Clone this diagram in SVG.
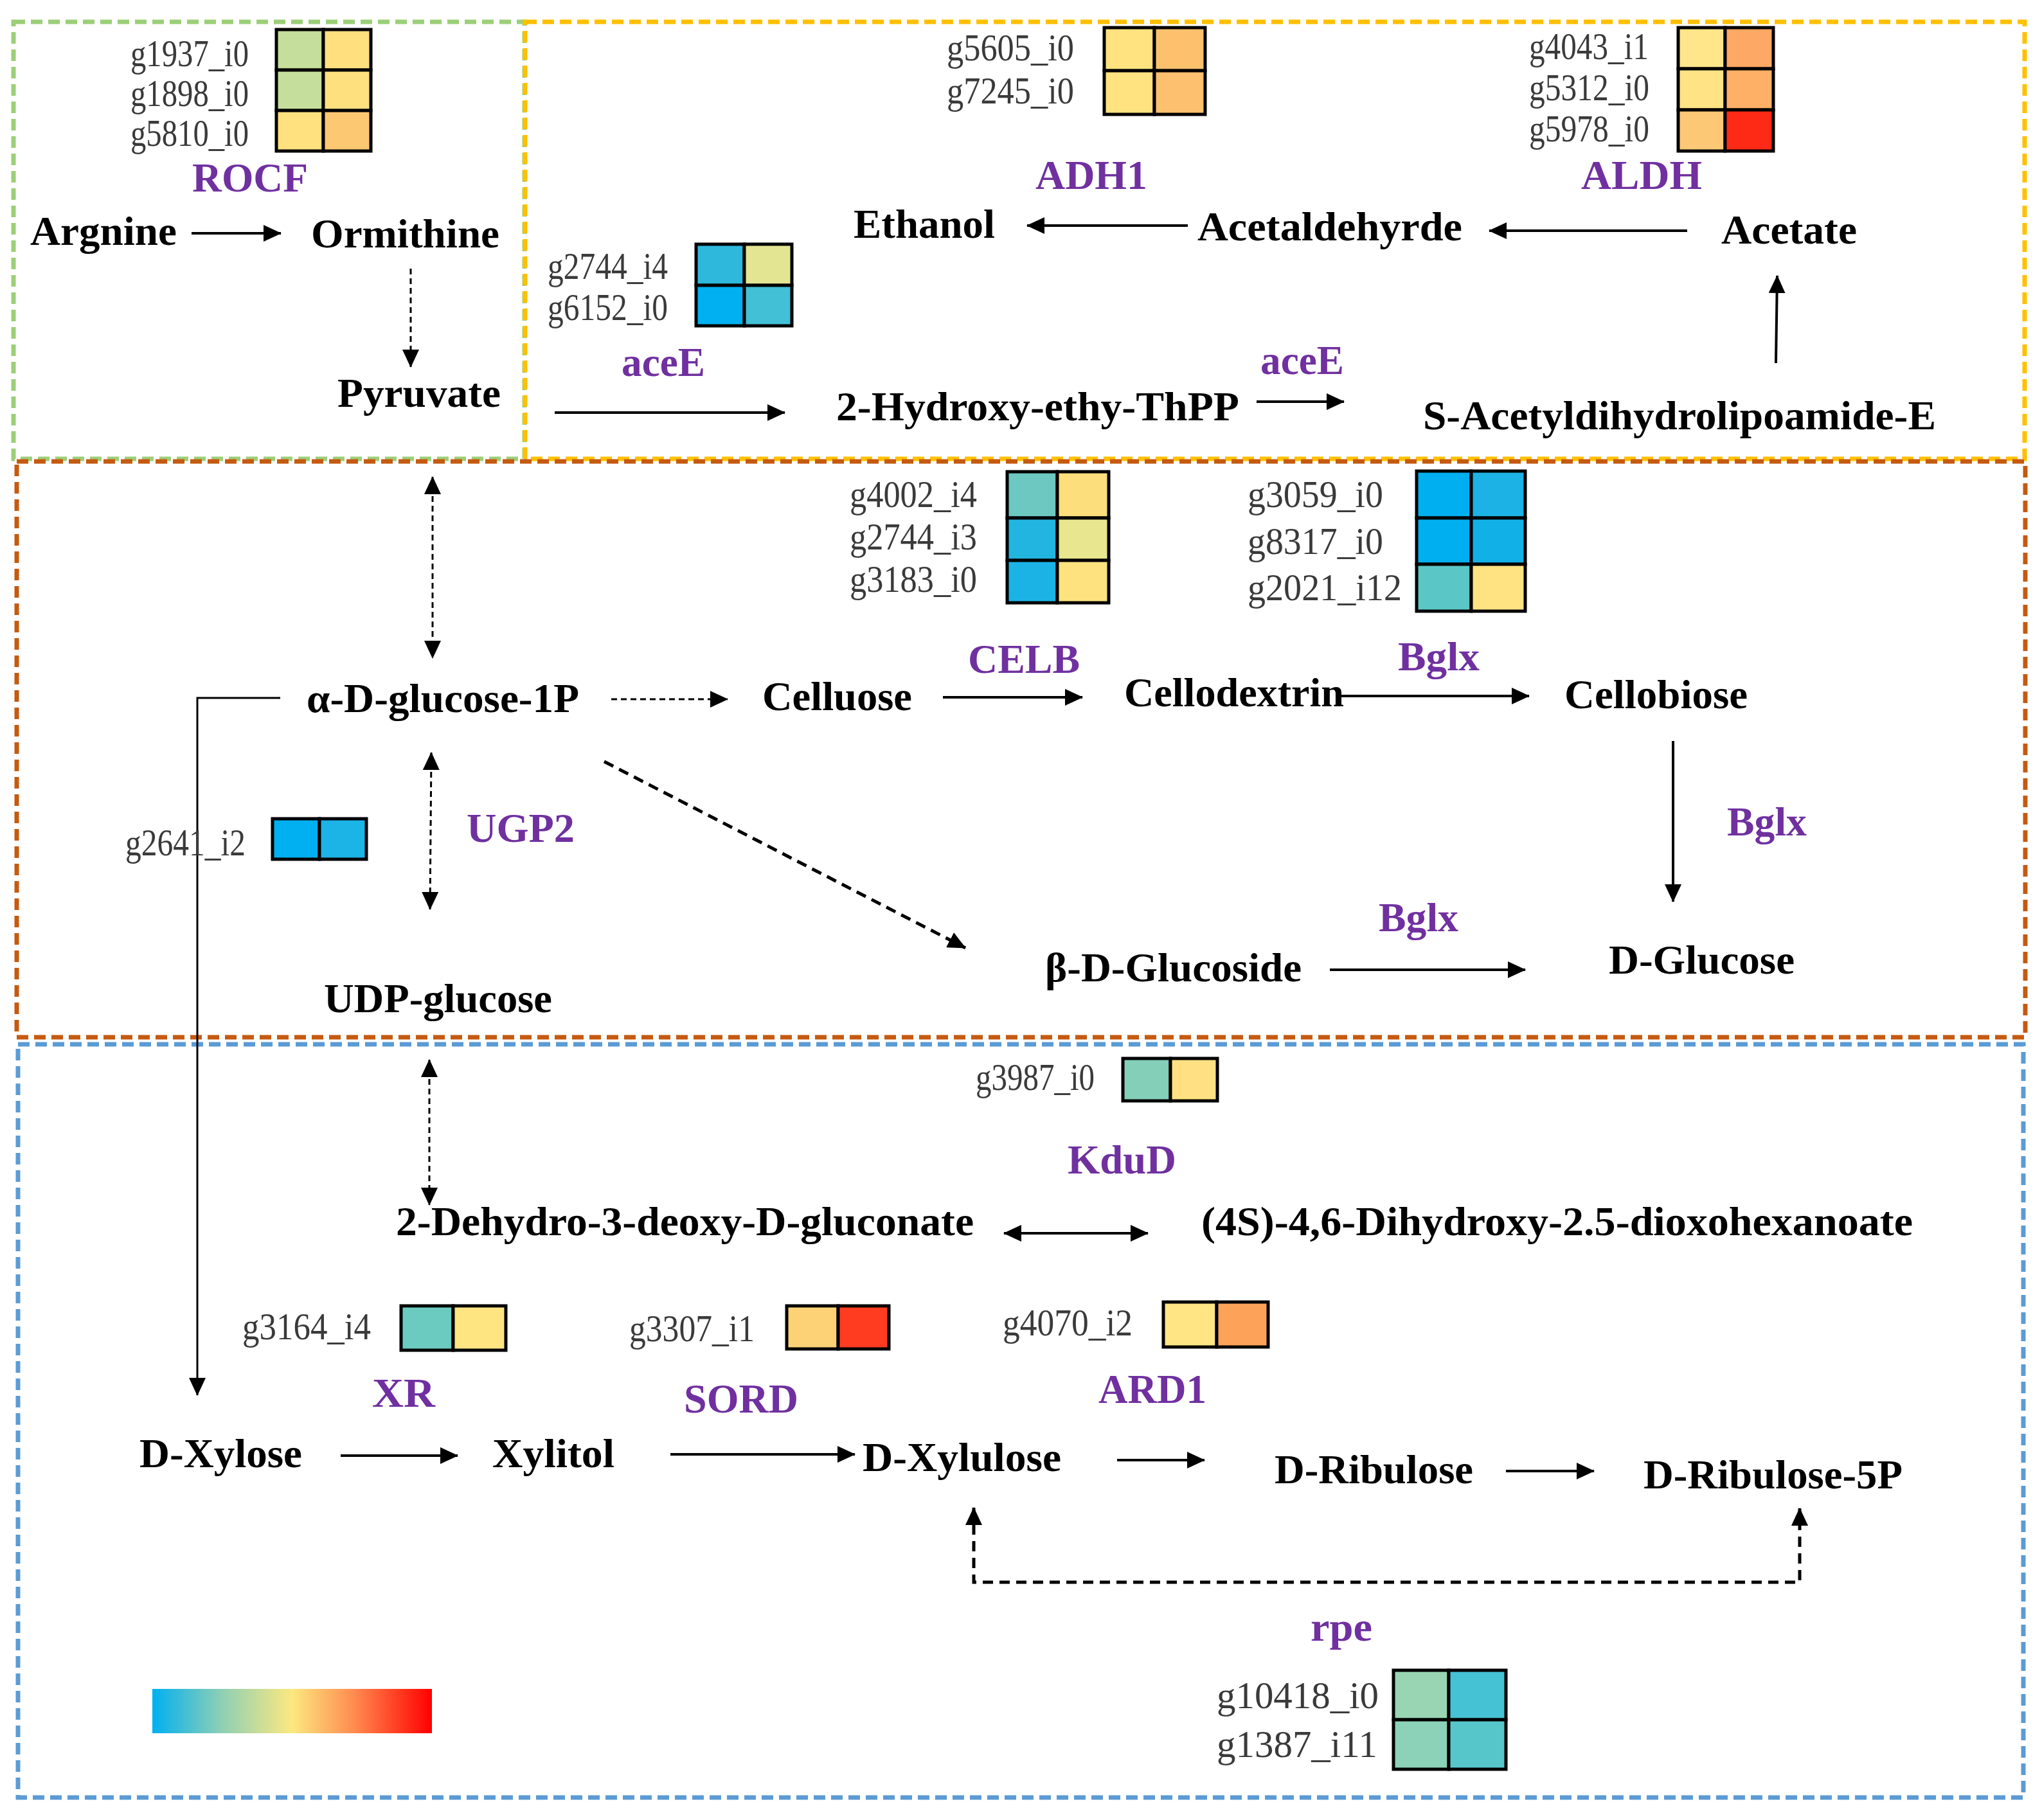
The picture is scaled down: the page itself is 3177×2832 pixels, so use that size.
<svg xmlns="http://www.w3.org/2000/svg" width="3177" height="2832" viewBox="0 0 3177 2832">
<style>
.m{font-family:"Liberation Serif","Times New Roman",serif;font-weight:bold;font-size:64px;fill:#000}
.e{font-family:"Liberation Serif","Times New Roman",serif;font-weight:bold;font-size:64px;fill:#7030A0}
.g{font-family:"Liberation Serif","Times New Roman",serif;font-size:60px;fill:#3a3a3a}
.hm rect{stroke:#000;stroke-width:5}
.box{fill:none;stroke-width:7;stroke-dasharray:18 9}
.s{fill:none;stroke:#000;stroke-width:4;marker-end:url(#ah)}
.d{fill:none;stroke:#000;stroke-width:3;stroke-dasharray:9 6;marker-end:url(#ah);marker-start:url(#ah)}
.dd{fill:none;stroke:#000;stroke-width:5;stroke-dasharray:16 10}
</style>
<defs>
<marker id="ah" markerUnits="userSpaceOnUse" viewBox="0 0 28 26" refX="27" refY="13" markerWidth="28" markerHeight="26" orient="auto-start-reverse">
<path d="M0,0 L28,13 L0,26 z" fill="#000"/>
</marker>
<linearGradient id="grad" x1="0" y1="0" x2="1" y2="0">
<stop offset="0" stop-color="#00B0F0"/>
<stop offset="0.25" stop-color="#8FD0B4"/>
<stop offset="0.5" stop-color="#FCE880"/>
<stop offset="0.72" stop-color="#FF8C50"/>
<stop offset="1" stop-color="#FF0000"/>
</linearGradient>
</defs>
<rect width="3177" height="2832" fill="#fff"/>

<g id="regions">
<rect class="box" x="21" y="34" width="795" height="680" stroke="#9CCF78"/>
<rect class="box" x="817" y="34" width="2333" height="680" stroke="#FFC000"/>
<rect class="box" x="26" y="718" width="3125" height="896" stroke="#C55A11"/>
<rect class="box" x="28" y="1625" width="3120" height="1172" stroke="#5B9BD5"/>
</g>

<g id="connectors">
<line class="s" x1="298" y1="363" x2="437" y2="363"/>
<line class="d" style="marker-start:none" x1="639" y1="418" x2="639" y2="571"/>
<line class="s" x1="1848" y1="351" x2="1598" y2="351"/>
<line class="s" x1="2625" y1="359" x2="2317" y2="359"/>
<line class="s" x1="2763" y1="565" x2="2765" y2="429"/>
<line class="s" x1="863" y1="642" x2="1221" y2="642"/>
<line class="s" x1="1955" y1="625" x2="2091" y2="625"/>
<line class="d" x1="673" y1="742" x2="673" y2="1024"/>
<line class="d" style="marker-start:none" x1="951" y1="1088" x2="1132" y2="1088"/>
<line class="s" x1="1467" y1="1085" x2="1684" y2="1085"/>
<line class="s" x1="2080" y1="1083" x2="2379" y2="1083"/>
<line class="s" x1="2603" y1="1153" x2="2603" y2="1403"/>
<line class="dd" style="marker-end:url(#ah)" x1="940" y1="1185" x2="1502" y2="1475"/>
<line class="s" x1="2069" y1="1509" x2="2373" y2="1509"/>
<line class="d" x1="671" y1="1171" x2="669" y2="1415"/>
<polyline class="s" style="stroke-width:3" points="436,1086 307,1086 307,2171"/>
<line class="d" x1="668" y1="1649" x2="668" y2="1875"/>
<line class="s" style="marker-start:url(#ah)" x1="1562" y1="1919" x2="1786" y2="1919"/>
<line class="s" x1="530" y1="2265" x2="712" y2="2265"/>
<line class="s" x1="1043" y1="2263" x2="1330" y2="2263"/>
<line class="s" x1="1738" y1="2272" x2="1874" y2="2272"/>
<line class="s" x1="2343" y1="2289" x2="2480" y2="2289"/>
<polyline class="dd" style="marker-start:url(#ah);marker-end:url(#ah)" points="1515,2346 1515,2462 2800,2462 2800,2347"/>
</g>

<g id="metabolites">
<text id="argnine" class="m" x="47" y="381" textLength="228" lengthAdjust="spacingAndGlyphs">Argnine</text>
<text id="ormithine" class="m" x="484" y="385" textLength="293" lengthAdjust="spacingAndGlyphs">Ormithine</text>
<text id="pyruvate" class="m" x="525" y="633" textLength="254" lengthAdjust="spacingAndGlyphs">Pyruvate</text>
<text id="ethanol" class="m" x="1328" y="370" textLength="220" lengthAdjust="spacingAndGlyphs">Ethanol</text>
<text id="acetaldehyrde" class="m" x="1863" y="374" textLength="412" lengthAdjust="spacingAndGlyphs">Acetaldehyrde</text>
<text id="acetate" class="m" x="2678" y="379" textLength="211" lengthAdjust="spacingAndGlyphs">Acetate</text>
<text id="hethpp" class="m" x="1301" y="654" textLength="627" lengthAdjust="spacingAndGlyphs">2-Hydroxy-ethy-ThPP</text>
<text id="sacetyl" class="m" x="2214" y="668" textLength="798" lengthAdjust="spacingAndGlyphs">S-Acetyldihydrolipoamide-E</text>
<text id="glc1p" class="m" x="477" y="1108" textLength="424" lengthAdjust="spacingAndGlyphs">α-D-glucose-1P</text>
<text id="celluose" class="m" x="1186" y="1105" textLength="233" lengthAdjust="spacingAndGlyphs">Celluose</text>
<text id="cellodextrin" class="m" x="1749" y="1099" textLength="342" lengthAdjust="spacingAndGlyphs">Cellodextrin</text>
<text id="cellobiose" class="m" x="2434" y="1102" textLength="285" lengthAdjust="spacingAndGlyphs">Cellobiose</text>
<text id="udpglc" class="m" x="504" y="1575" textLength="355" lengthAdjust="spacingAndGlyphs">UDP-glucose</text>
<text id="bglucoside" class="m" x="1626" y="1527" textLength="399" lengthAdjust="spacingAndGlyphs">β-D-Glucoside</text>
<text id="dglucose" class="m" x="2503" y="1515" textLength="289" lengthAdjust="spacingAndGlyphs">D-Glucose</text>
<text id="kdg" class="m" x="616" y="1922" textLength="899" lengthAdjust="spacingAndGlyphs">2-Dehydro-3-deoxy-D-gluconate</text>
<text id="dhdoh" class="m" x="1869" y="1922" textLength="1107" lengthAdjust="spacingAndGlyphs">(4S)-4,6-Dihydroxy-2.5-dioxohexanoate</text>
<text id="dxylose" class="m" x="217" y="2283" textLength="253" lengthAdjust="spacingAndGlyphs">D-Xylose</text>
<text id="xylitol" class="m" x="766" y="2283" textLength="190" lengthAdjust="spacingAndGlyphs">Xylitol</text>
<text id="dxylulose" class="m" x="1342" y="2289" textLength="309" lengthAdjust="spacingAndGlyphs">D-Xylulose</text>
<text id="dribulose" class="m" x="1983" y="2308" textLength="309" lengthAdjust="spacingAndGlyphs">D-Ribulose</text>
<text id="dribulose5p" class="m" x="2557" y="2316" textLength="403" lengthAdjust="spacingAndGlyphs">D-Ribulose-5P</text>
</g>

<g id="enzymes">
<text class="e" x="299" y="298" textLength="180" lengthAdjust="spacingAndGlyphs">ROCF</text>
<text class="e" x="1611" y="294" textLength="174" lengthAdjust="spacingAndGlyphs">ADH1</text>
<text class="e" x="2460" y="294" textLength="188" lengthAdjust="spacingAndGlyphs">ALDH</text>
<text class="e" x="967" y="585" textLength="130" lengthAdjust="spacingAndGlyphs">aceE</text>
<text class="e" x="1961" y="582" textLength="130" lengthAdjust="spacingAndGlyphs">aceE</text>
<text class="e" x="1506" y="1047" textLength="174" lengthAdjust="spacingAndGlyphs">CELB</text>
<text class="e" x="2175" y="1043" textLength="127" lengthAdjust="spacingAndGlyphs">Bglx</text>
<text class="e" x="2687" y="1300" textLength="124" lengthAdjust="spacingAndGlyphs">Bglx</text>
<text class="e" x="2145" y="1449" textLength="124" lengthAdjust="spacingAndGlyphs">Bglx</text>
<text class="e" x="726" y="1310" textLength="168" lengthAdjust="spacingAndGlyphs">UGP2</text>
<text class="e" x="1661" y="1826" textLength="169" lengthAdjust="spacingAndGlyphs">KduD</text>
<text class="e" x="579" y="2189" textLength="98" lengthAdjust="spacingAndGlyphs">XR</text>
<text class="e" x="1064" y="2198" textLength="178" lengthAdjust="spacingAndGlyphs">SORD</text>
<text class="e" x="1709" y="2183" textLength="168" lengthAdjust="spacingAndGlyphs">ARD1</text>
<text class="e" x="2039" y="2553" textLength="96" lengthAdjust="spacingAndGlyphs">rpe</text>
</g>

<g id="genes">
<text class="g" x="203" y="103" textLength="184" lengthAdjust="spacingAndGlyphs">g1937_i0</text>
<text class="g" x="203" y="165" textLength="184" lengthAdjust="spacingAndGlyphs">g1898_i0</text>
<text class="g" x="203" y="227" textLength="184" lengthAdjust="spacingAndGlyphs">g5810_i0</text>
<text class="g" x="1473" y="94" textLength="198" lengthAdjust="spacingAndGlyphs">g5605_i0</text>
<text class="g" x="1473" y="161" textLength="198" lengthAdjust="spacingAndGlyphs">g7245_i0</text>
<text class="g" x="2379" y="92" textLength="186" lengthAdjust="spacingAndGlyphs">g4043_i1</text>
<text class="g" x="2379" y="156" textLength="187" lengthAdjust="spacingAndGlyphs">g5312_i0</text>
<text class="g" x="2379" y="220" textLength="187" lengthAdjust="spacingAndGlyphs">g5978_i0</text>
<text class="g" x="852" y="434" textLength="187" lengthAdjust="spacingAndGlyphs">g2744_i4</text>
<text class="g" x="852" y="498" textLength="187" lengthAdjust="spacingAndGlyphs">g6152_i0</text>
<text class="g" x="1322" y="789" textLength="198" lengthAdjust="spacingAndGlyphs">g4002_i4</text>
<text class="g" x="1322" y="855" textLength="198" lengthAdjust="spacingAndGlyphs">g2744_i3</text>
<text class="g" x="1322" y="921" textLength="198" lengthAdjust="spacingAndGlyphs">g3183_i0</text>
<text class="g" x="1941" y="789" textLength="211" lengthAdjust="spacingAndGlyphs">g3059_i0</text>
<text class="g" x="1941" y="862" textLength="211" lengthAdjust="spacingAndGlyphs">g8317_i0</text>
<text class="g" x="1941" y="934" textLength="240" lengthAdjust="spacingAndGlyphs">g2021_i12</text>
<text class="g" x="195" y="1331" textLength="187" lengthAdjust="spacingAndGlyphs">g2641_i2</text>
<text class="g" x="1518" y="1696" textLength="185" lengthAdjust="spacingAndGlyphs">g3987_i0</text>
<text class="g" x="377" y="2084" textLength="200" lengthAdjust="spacingAndGlyphs">g3164_i4</text>
<text class="g" x="979" y="2087" textLength="195" lengthAdjust="spacingAndGlyphs">g3307_i1</text>
<text class="g" x="1560" y="2078" textLength="202" lengthAdjust="spacingAndGlyphs">g4070_i2</text>
<text class="g" x="1893" y="2658" textLength="252" lengthAdjust="spacingAndGlyphs">g10418_i0</text>
<text class="g" x="1893" y="2734" textLength="250" lengthAdjust="spacingAndGlyphs">g1387_i11</text>
</g>

<g id="hm-rocf" class="hm">
<rect x="430" y="46" width="73" height="63" fill="#C5DE9B"/><rect x="503" y="46" width="74" height="63" fill="#FFDF7E"/>
<rect x="430" y="109" width="73" height="63" fill="#C6DE9C"/><rect x="503" y="109" width="74" height="63" fill="#FEE07E"/>
<rect x="430" y="172" width="73" height="63" fill="#FFE17F"/><rect x="503" y="172" width="74" height="63" fill="#FDC872"/>
</g>
<g id="hm-adh1" class="hm">
<rect x="1718" y="43" width="78" height="67" fill="#FFE380"/><rect x="1796" y="43" width="79" height="67" fill="#FDC16E"/>
<rect x="1718" y="110" width="78" height="68" fill="#FFE380"/><rect x="1796" y="110" width="79" height="68" fill="#FDC06E"/>
</g>
<g id="hm-aldh" class="hm">
<rect x="2611" y="43" width="73" height="64" fill="#FFE68A"/><rect x="2684" y="43" width="75" height="64" fill="#FDA864"/>
<rect x="2611" y="107" width="73" height="64" fill="#FFE385"/><rect x="2684" y="107" width="75" height="64" fill="#FDB066"/>
<rect x="2611" y="171" width="73" height="64" fill="#FDC876"/><rect x="2684" y="171" width="75" height="64" fill="#FF2A16"/>
</g>
<g id="hm-acee" class="hm">
<rect x="1083" y="380" width="75" height="64" fill="#2EB8DC"/><rect x="1158" y="380" width="74" height="64" fill="#E4E593"/>
<rect x="1083" y="444" width="75" height="63" fill="#00B0F0"/><rect x="1158" y="444" width="74" height="63" fill="#42C0D6"/>
</g>
<g id="hm-celb" class="hm">
<rect x="1567" y="734" width="78" height="72" fill="#6CC8C0"/><rect x="1645" y="734" width="80" height="72" fill="#FDDE7C"/>
<rect x="1567" y="806" width="78" height="66" fill="#22B5E0"/><rect x="1645" y="806" width="80" height="66" fill="#E8E68E"/>
<rect x="1567" y="872" width="78" height="66" fill="#1BB3E6"/><rect x="1645" y="872" width="80" height="66" fill="#FEE27F"/>
</g>
<g id="hm-bglx" class="hm">
<rect x="2204" y="733" width="85" height="73" fill="#00AFEF"/><rect x="2289" y="733" width="84" height="73" fill="#1CB2E5"/>
<rect x="2204" y="806" width="85" height="72" fill="#00AFEF"/><rect x="2289" y="806" width="84" height="72" fill="#11B1E8"/>
<rect x="2204" y="878" width="85" height="73" fill="#5BC6C6"/><rect x="2289" y="878" width="84" height="73" fill="#FFE282"/>
</g>
<g id="hm-ugp2" class="hm">
<rect x="424" y="1274" width="73" height="63" fill="#00B0F0"/><rect x="497" y="1274" width="73" height="63" fill="#1CB4E6"/>
</g>
<g id="hm-kdud" class="hm">
<rect x="1747" y="1647" width="74" height="66" fill="#84CFB8"/><rect x="1821" y="1647" width="73" height="66" fill="#FFE183"/>
</g>
<g id="hm-xr" class="hm">
<rect x="624" y="2032" width="81" height="69" fill="#6CCBC0"/><rect x="705" y="2032" width="82" height="69" fill="#FFE482"/>
</g>
<g id="hm-sord" class="hm">
<rect x="1224" y="2032" width="80" height="67" fill="#FDD277"/><rect x="1304" y="2032" width="79" height="67" fill="#FF3C1F"/>
</g>
<g id="hm-ard1" class="hm">
<rect x="1810" y="2026" width="83" height="70" fill="#FFE584"/><rect x="1893" y="2026" width="80" height="70" fill="#FDA359"/>
</g>
<g id="hm-rpe" class="hm">
<rect x="2168" y="2599" width="86" height="77" fill="#99D5B2"/><rect x="2254" y="2599" width="89" height="77" fill="#45C2D4"/>
<rect x="2168" y="2676" width="86" height="77" fill="#8CD2B8"/><rect x="2254" y="2676" width="89" height="77" fill="#57C6CB"/>
</g>

<g id="legend">
<rect x="237" y="2628" width="435" height="69" fill="url(#grad)"/>
</g>
</svg>
